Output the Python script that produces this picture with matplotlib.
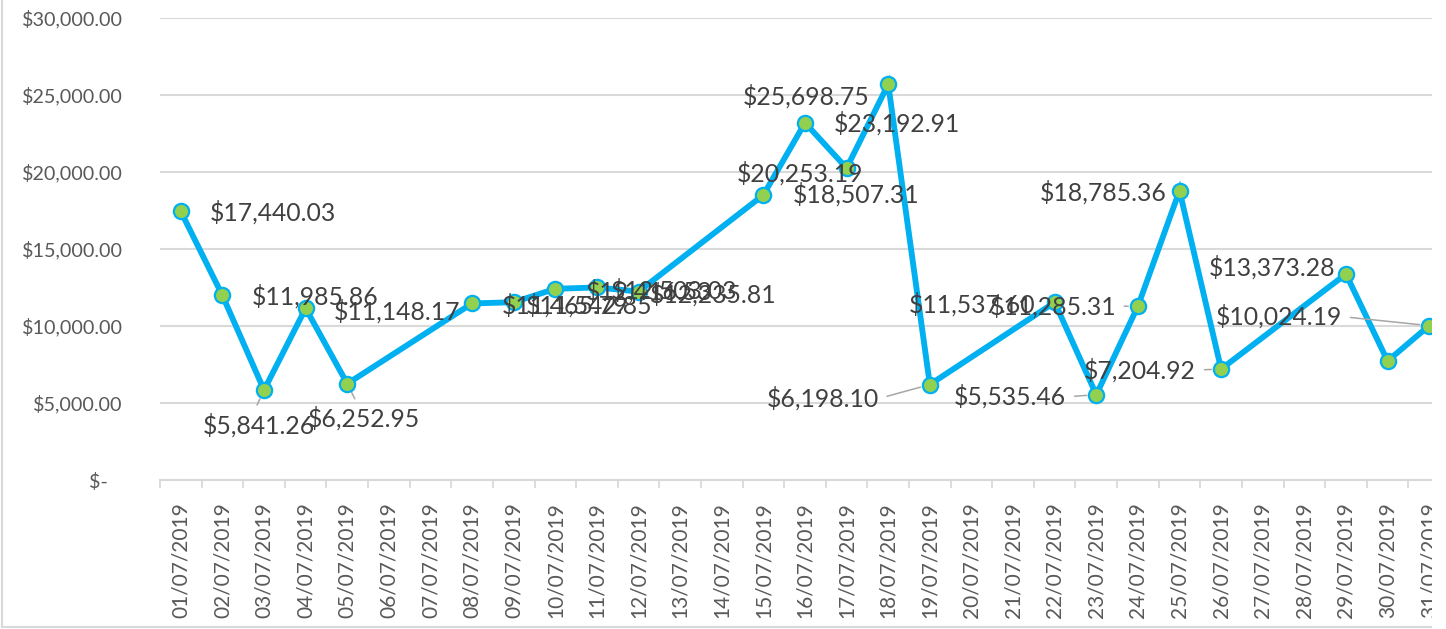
import matplotlib
matplotlib.use("Agg")
import matplotlib.pyplot as plt
import numpy as np
import pandas as pd
from matplotlib.lines import Line2D
from matplotlib.patches import Rectangle

plt.rcParams['font.family'] = ['Lato', 'DejaVu Sans']

# daily totals, July 2019 (weekdays only)
dates = ["01/07/2019", "02/07/2019", "03/07/2019", "04/07/2019", "05/07/2019",
         "08/07/2019", "09/07/2019", "10/07/2019", "11/07/2019", "12/07/2019",
         "15/07/2019", "16/07/2019", "17/07/2019", "18/07/2019", "19/07/2019",
         "22/07/2019", "23/07/2019", "24/07/2019", "25/07/2019", "26/07/2019",
         "29/07/2019", "30/07/2019", "31/07/2019"]
totals = [17440.03, 11985.86, 5841.26, 11148.17, 6252.95,
          11465.79, 11542.85, 12416.53, 12503.03, 12235.81,
          18507.31, 23192.91, 20253.19, 25698.75, 6198.10,
          11537.60, 5535.46, 11285.31, 18785.36, 7204.92,
          13373.28, 7730.00, 10024.19]
show_label = [True] * 21 + [False, True]
all_days = pd.date_range("2019-07-01", "2019-07-31").strftime("%d/%m/%Y").tolist()
y_ticks = [0, 5000, 10000, 15000, 20000, 25000, 30000]

# label placement: (dx px, dy px, ha, leader line)
label_pos = [(29, -1, 'left', False), (29, -1, 'left', False), (-5, -35, 'center', True),
             (28, -3, 'left', False), (17, -35, 'center', True),
             (30, -2, 'left', False), (12, -3, 'left', False), (30, -3, 'left', False),
             (14, -3, 'left', False), (11, -3, 'left', False),
             (29, 1, 'left', False), (29, -1, 'left', False), (-47, -5, 'center', False),
             (-19, -12, 'right', False), (-51, -14, 'right', True),
             (-19, -2, 'right', False), (-30, -2, 'right', True), (-22, 0, 'right', True),
             (-13, -2, 'right', False), (-25, -1, 'right', True),
             (-11, 7, 'right', False), (0, 0, 'right', False), (-87, 9, 'right', True)]

blue = '#00B0F0'
green = '#92D050'
grid_c = '#D9D9D9'

fig = plt.figure(figsize=(14.46, 6.29), dpi=100)
ax = fig.add_axes([160 / 1446, 149 / 629, 1290 / 1446, 462 / 629])

x = [all_days.index(d) + 1 for d in dates]
ax.plot(x, totals, color=blue, lw=4.2, marker='o', markersize=11,
        markerfacecolor=green, markeredgecolor=blue, markeredgewidth=1.6, zorder=3,
        solid_joinstyle='miter')

for xi, v, show, (dx, dy, ha, lead) in zip(x, totals, show_label, label_pos):
    if not show:
        continue
    kw = {}
    if lead:
        rp = (1, 0.5) if ha == 'right' else (0.45, 1)
        kw['arrowprops'] = dict(arrowstyle='-', color='#A6A6A6', lw=1.1,
                                shrinkA=4, shrinkB=7, relpos=rp)
    ax.annotate(f"${v:,.2f}", (xi, v), xytext=(dx, dy), textcoords='offset pixels',
                ha=ha, va='center', fontsize=17.8, color='#404040', zorder=4, **kw)

ax.set_xlim(0.5, 31.5)
ax.set_ylim(0, 30000)
ax.set_yticks(y_ticks)
ax.set_yticklabels(["$-   "] + [f"${t:,.2f}" for t in y_ticks[1:]])
ax.set_xticks(range(1, 32))
ax.set_xticklabels(all_days, rotation=90)
ax.set_xticks(np.arange(0.5, 32, 1), minor=True)
ax.tick_params(axis='x', which='major', length=0, pad=16, labelsize=15, labelcolor='#595959')
ax.tick_params(axis='x', which='minor', length=6, width=1.3, color=grid_c)
ax.tick_params(axis='y', length=0, pad=27, labelsize=14.2, labelcolor='#595959')

ax.grid(axis='y', color=grid_c, lw=1.5)
ax.set_axisbelow(True)
for s in ['top', 'right', 'left']:
    ax.spines[s].set_visible(False)
ax.spines['bottom'].set_color(grid_c)
ax.spines['bottom'].set_linewidth(1.5)

# chart area border, and the cut-off strip on the right
fig.add_artist(Line2D([2 / 1446, 2 / 1446], [2 / 629, 1], color=grid_c, lw=1.5))
fig.add_artist(Line2D([2 / 1446, 1], [2 / 629, 2 / 629], color=grid_c, lw=1.5))
fig.add_artist(Rectangle((1432 / 1446, 0), 14 / 1446, 1, transform=fig.transFigure,
                         facecolor='white', edgecolor='none', zorder=10))

fig.savefig("out.png", dpi=100)
